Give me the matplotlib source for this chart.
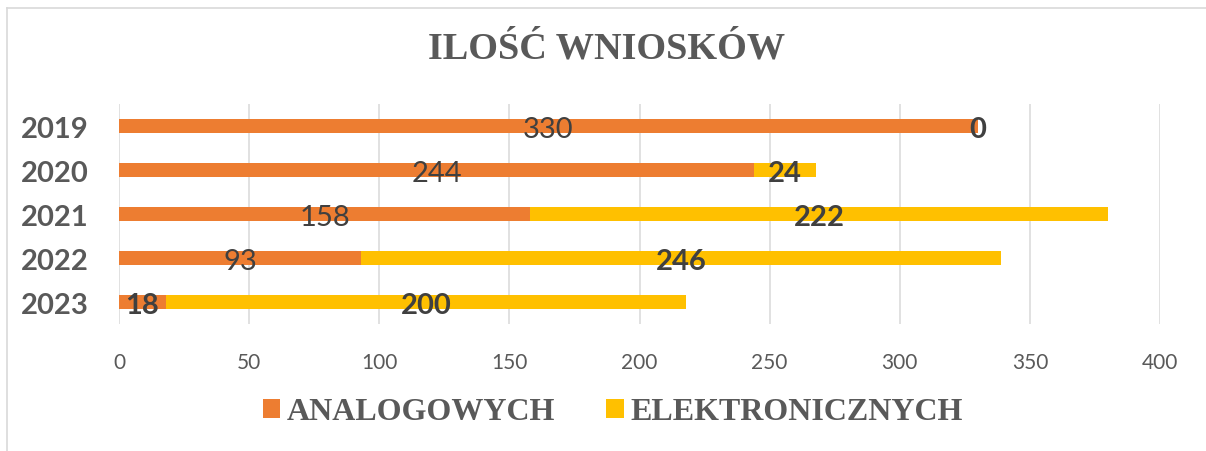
import matplotlib.pyplot as plt
from matplotlib.lines import Line2D

# data
years = ['2019', '2020', '2021', '2022', '2023']
analogowych = [330, 244, 158, 93, 18]
elektronicznych = [0, 24, 222, 246, 200]
x_ticks = [0, 50, 100, 150, 200, 250, 300, 350, 400]

ORANGE = '#ED7D31'
YELLOW = '#FFC000'
GREY = '#595959'
DARK = '#404040'
SANS = ['Lato', 'DejaVu Sans']
SERIF = ['Liberation Serif', 'DejaVu Serif']

fig = plt.figure(figsize=(12.06, 4.52), dpi=100)
ax = fig.add_axes([119 / 1206, 1 - 325 / 452, (1160 - 119) / 1206, 220 / 452])

pos = list(range(len(years)))
b1 = ax.barh(pos, analogowych, height=0.31, color=ORANGE, label='ANALOGOWYCH')
b2 = ax.barh(pos, elektronicznych, left=analogowych, height=0.31, color=YELLOW,
             label='ELEKTRONICZNYCH')

# data labels (only the 2023 analog label is bold in the original)
for i, (a, e) in enumerate(zip(analogowych, elektronicznych)):
    ax.text(a / 2, i + 0.06, str(a), ha='center', va='center', fontsize=21,
            color=DARK, family=SANS, fontweight='bold' if i == 4 else 'normal')
    ax.text(a + e / 2, i + 0.06, str(e), ha='center', va='center', fontsize=21,
            color=DARK, family=SANS, fontweight='bold')

ax.set_xlim(0, 400)
ax.set_ylim(len(years) - 0.5, -0.5)
ax.set_xticks(x_ticks)
ax.set_xticklabels([str(t) for t in x_ticks], fontsize=15, color=GREY, family=SANS)
ax.set_yticks(pos)
ax.set_yticklabels(years, fontsize=21, color=GREY, family=SANS, fontweight='bold')
ax.tick_params(axis='x', length=0, pad=20)
ax.tick_params(axis='y', length=0, pad=22)
ax.grid(axis='x', color='#D9D9D9', lw=1.1)
ax.set_axisbelow(True)
for s in ax.spines.values():
    s.set_visible(False)

fig.text(0.503, 1 - 49 / 452, 'ILOŚĆ WNIOSKÓW', ha='center', va='center',
         fontsize=27.5, fontweight='bold', color=GREY, family=SERIF)

leg = fig.legend(handles=[b1, b2], loc='center', bbox_to_anchor=(0.508, 1 - 413 / 452),
                 ncol=2, frameon=False, handlelength=0.55, handleheight=0.55,
                 handletextpad=0.2, columnspacing=1.6,
                 prop={'family': SERIF, 'size': 23, 'weight': 'bold'})
for t in leg.get_texts():
    t.set_color(GREY)

# outer chart border (left and top edges visible)
fig.add_artist(Line2D([7 / 1206, 7 / 1206], [0, 1 - 8.5 / 452], transform=fig.transFigure,
                      color='#D9D9D9', lw=1.2))
fig.add_artist(Line2D([7 / 1206, 1], [1 - 8.5 / 452, 1 - 8.5 / 452], transform=fig.transFigure,
                      color='#D9D9D9', lw=1.2))

fig.savefig('out.png', dpi=100)
